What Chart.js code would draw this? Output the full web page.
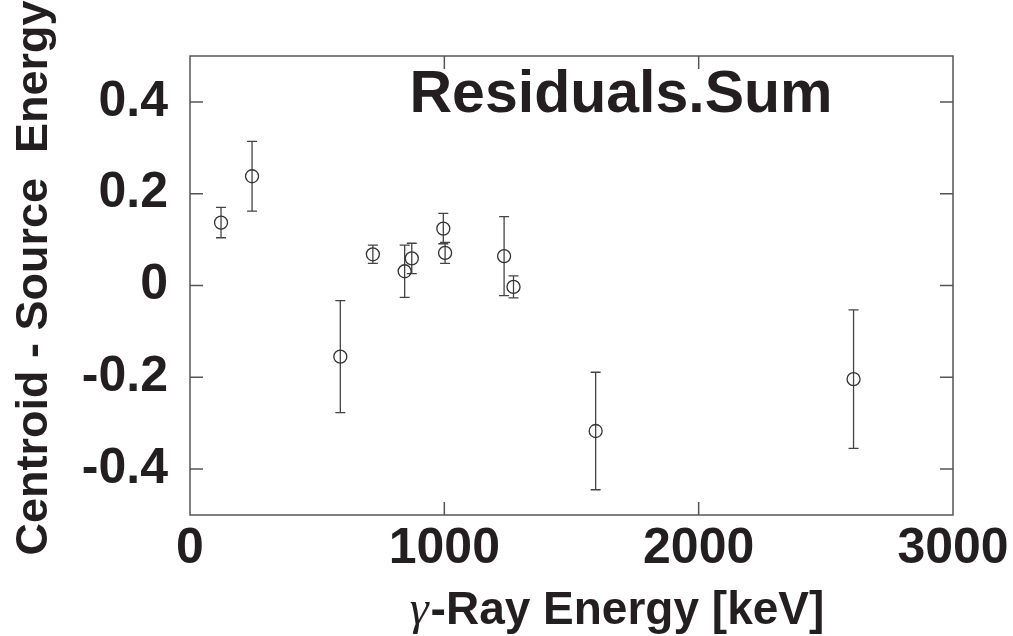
<!DOCTYPE html>
<html>
<head>
<meta charset="utf-8">
<title>Residuals.Sum</title>
<script src="https://cdn.jsdelivr.net/npm/chart.js@4/dist/chart.umd.min.js"></script>
<style>
  html, body { margin: 0; padding: 0; background: #fff; }
  #chart { display: block; }
</style>
</head>
<body>
<canvas id="chart" width="1013" height="636"></canvas>
<script>
/* ---------- data ---------- */
const energies  = [122, 244, 591, 719, 844, 872, 996, 1003, 1235, 1272, 1595, 2609];
const residuals = [0.137, 0.238, -0.155, 0.068, 0.031, 0.059, 0.124, 0.071, 0.064, -0.003, -0.317, -0.204];
const errors    = [0.033, 0.076, 0.122, 0.020, 0.057, 0.033, 0.033, 0.023, 0.086, 0.024, 0.128, 0.151];

const xTicks = [0, 1000, 2000, 3000];
const yTicks = [-0.4, -0.2, 0, 0.2, 0.4];

const titleText  = "Residuals.Sum";
const yTitleText = "Centroid - Source  Energy";
const xTitleGreek = "\u03b3";
const xTitleText = "-Ray Energy [keV]";

/* ---------- styles ---------- */
const INK = "#231f20";
const LINE = "#444";
const SANS = "'Liberation Sans', Arial, Helvetica, sans-serif";
const SERIF = "'Liberation Serif', 'Times New Roman', serif";

// vertical error bars with small caps
const errorBars = {
  id: "errorBars",
  beforeDatasetsDraw(chart) {
    const { ctx, scales: { x, y } } = chart;
    ctx.save();
    ctx.strokeStyle = LINE;
    ctx.lineWidth = 1.3;
    energies.forEach((e, i) => {
      const px = x.getPixelForValue(e);
      const top = y.getPixelForValue(residuals[i] + errors[i]);
      const bot = y.getPixelForValue(residuals[i] - errors[i]);
      ctx.beginPath();
      ctx.moveTo(px, top); ctx.lineTo(px, bot);
      ctx.moveTo(px - 5, top); ctx.lineTo(px + 5, top);
      ctx.moveTo(px - 5, bot); ctx.lineTo(px + 5, bot);
      ctx.stroke();
    });
    ctx.restore();
  }
};

// box frame with inward ticks on all four sides, plus titles
const frame = {
  id: "frame",
  afterDraw(chart) {
    const { ctx, chartArea: a, scales: { x, y } } = chart;
    const len = 13;
    ctx.save();
    ctx.strokeStyle = "#555";
    ctx.lineWidth = 1.5;
    ctx.strokeRect(a.left, a.top, a.right - a.left, a.bottom - a.top);
    ctx.beginPath();
    yTicks.forEach(v => {
      const py = y.getPixelForValue(v);
      ctx.moveTo(a.left, py); ctx.lineTo(a.left + len, py);
      ctx.moveTo(a.right, py); ctx.lineTo(a.right - len, py);
    });
    xTicks.slice(1, -1).forEach(v => {
      const px = x.getPixelForValue(v);
      ctx.moveTo(px, a.top); ctx.lineTo(px, a.top + len);
      ctx.moveTo(px, a.bottom); ctx.lineTo(px, a.bottom - len);
    });
    ctx.stroke();

    ctx.fillStyle = INK;
    // title inside the plot
    ctx.font = "bold 59px " + SANS;
    ctx.textAlign = "center";
    ctx.textBaseline = "alphabetic";
    ctx.fillText(titleText, 621, 112);

    // y axis title
    ctx.save();
    ctx.translate(47, 278);
    ctx.rotate(-Math.PI / 2);
    ctx.font = "bold 45px " + SANS;
    ctx.fillText(yTitleText, 0, 0);
    ctx.restore();

    // x axis title: italic gamma + bold text
    ctx.textAlign = "left";
    const greekFont = "italic 48px " + SERIF;
    const restFont = "bold 46px " + SANS;
    ctx.font = greekFont;
    const gw = ctx.measureText(xTitleGreek).width;
    ctx.font = restFont;
    const rw = ctx.measureText(xTitleText).width;
    const x0 = 616 - (gw + rw) / 2;
    ctx.font = greekFont;
    ctx.fillText(xTitleGreek, x0, 624);
    ctx.font = restFont;
    ctx.fillText(xTitleText, x0 + gw + 2, 624);
    ctx.restore();
  }
};

new Chart(document.getElementById("chart"), {
  type: "scatter",
  data: {
    datasets: [{
      data: energies.map((e, i) => ({ x: e, y: residuals[i] })),
      pointStyle: "circle",
      pointRadius: 6.5,
      pointHoverRadius: 6.5,
      borderColor: "#333",
      borderWidth: 1.3,
      backgroundColor: "rgba(0,0,0,0)"
    }]
  },
  options: {
    responsive: false,
    animation: false,
    layout: { padding: { top: 56, right: 60, left: 0, bottom: 0 } },
    plugins: { legend: { display: false }, tooltip: { enabled: false } },
    scales: {
      x: {
        type: "linear",
        min: 0, max: 3000,
        afterBuildTicks: s => { s.ticks = xTicks.map(v => ({ value: v })); },
        afterFit: s => { s.height = 121; s.paddingLeft = 0; s.paddingRight = 0; },
        grid: { display: false, drawTicks: false },
        border: { display: false },
        ticks: {
          color: INK,
          padding: 4,
          maxRotation: 0,
          font: { family: SANS, size: 50, weight: "bold" },
          callback: v => String(v)
        }
      },
      y: {
        type: "linear",
        min: -0.5, max: 0.5,
        afterBuildTicks: s => { s.ticks = yTicks.map(v => ({ value: v })); },
        afterFit: s => { s.width = 190; s.paddingTop = 0; s.paddingBottom = 0; },
        grid: { display: false, drawTicks: false },
        border: { display: false },
        ticks: {
          color: INK,
          padding: 22,
          font: { family: SANS, size: 50, weight: "bold" },
          callback: v => String(v)
        }
      }
    }
  },
  plugins: [errorBars, frame]
});
</script>
</body>
</html>
